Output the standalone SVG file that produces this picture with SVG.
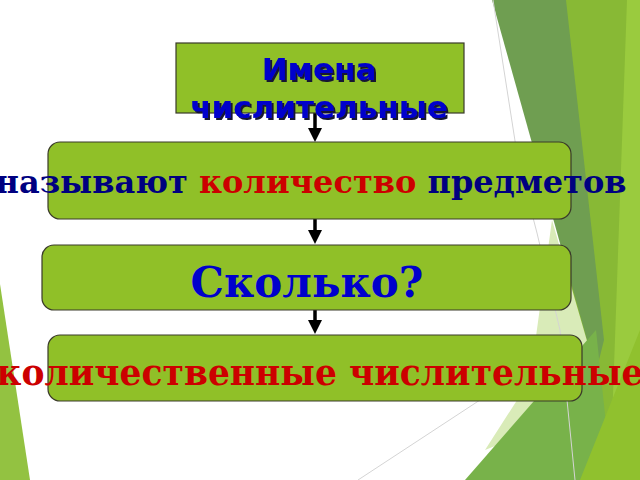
<svg xmlns="http://www.w3.org/2000/svg" width="640" height="480" viewBox="0 0 640 480">
<defs>
<style>
.box{fill:#90c028;stroke:#3a3a2a;stroke-width:1.2}
.conn{stroke:#000;stroke-width:3.5;fill:none}
.head{fill:#000}
.ser{font-family:"DejaVu Serif","Liberation Serif",serif;font-weight:bold}
.sans{font-family:"DejaVu Sans","Liberation Sans",sans-serif;font-weight:bold}
.line{stroke:#d4d4d4;stroke-width:1;fill:none}
</style>
<filter id="shadow" x="-10%" y="-30%" width="120%" height="160%">
<feDropShadow dx="2" dy="2" stdDeviation="0.6" flood-color="#141430" flood-opacity="1"/>
</filter>
</defs>
<rect width="640" height="480" fill="#ffffff"/>
<g id="background">
<polygon points="0,284 30,480 0,480" fill="#93c241"/>
<polygon points="566,0 640,0 640,480 560,480" fill="#88b935"/>
<polygon points="627,0 640,0 640,480 610,480" fill="#9acb3e"/>
<polygon points="492,0 566,0 604,340 596,372" fill="#6f9e51"/>
<polygon points="552,220 596,372 560,420 485,450 530,380" fill="#d9ebb8"/>
<polygon points="465,480 596,330 612,480" fill="#78b24a"/>
<polygon points="580,480 640,330 640,480" fill="#90c12e"/>
<polyline class="line" points="493,0 518,160 537,233 560,330 575,480"/>
<line class="line" x1="358" y1="480" x2="480" y2="400"/>
</g>
<g id="connectors">
<line class="conn" x1="315" y1="113" x2="315" y2="130"/>
<polygon class="head" points="308,128 322,128 315,142"/>
<line class="conn" x1="315" y1="219" x2="315" y2="232"/>
<polygon class="head" points="308,230 322,230 315,244"/>
<line class="conn" x1="315" y1="310" x2="315" y2="322"/>
<polygon class="head" points="308,320 322,320 315,334"/>
</g>
<g id="node1">
<rect class="box" x="176" y="43" width="288" height="70"/>
<text class="sans" font-size="31" text-anchor="middle" fill="#0000cc" filter="url(#shadow)"><tspan x="319" y="80">Имена</tspan><tspan x="319" y="118">числительные</tspan></text>
</g>
<g id="node2">
<rect class="box" x="48" y="142" width="523" height="77" rx="12"/>
<text class="ser" x="311" y="193" font-size="32" text-anchor="middle"><tspan fill="#000080">называют </tspan><tspan fill="#cc0000">количество</tspan><tspan fill="#000080"> предметов</tspan></text>
</g>
<g id="node3">
<rect class="box" x="42" y="245" width="529" height="65" rx="12"/>
<text class="ser" x="307" y="297" font-size="42" text-anchor="middle" fill="#0000cc">Сколько?</text>
</g>
<g id="node4">
<rect class="box" x="48" y="335" width="534" height="66" rx="12"/>
<text class="ser" x="320" y="385" font-size="34.5" text-anchor="middle" fill="#cc0000">количественные числительные</text>
</g>
</svg>
